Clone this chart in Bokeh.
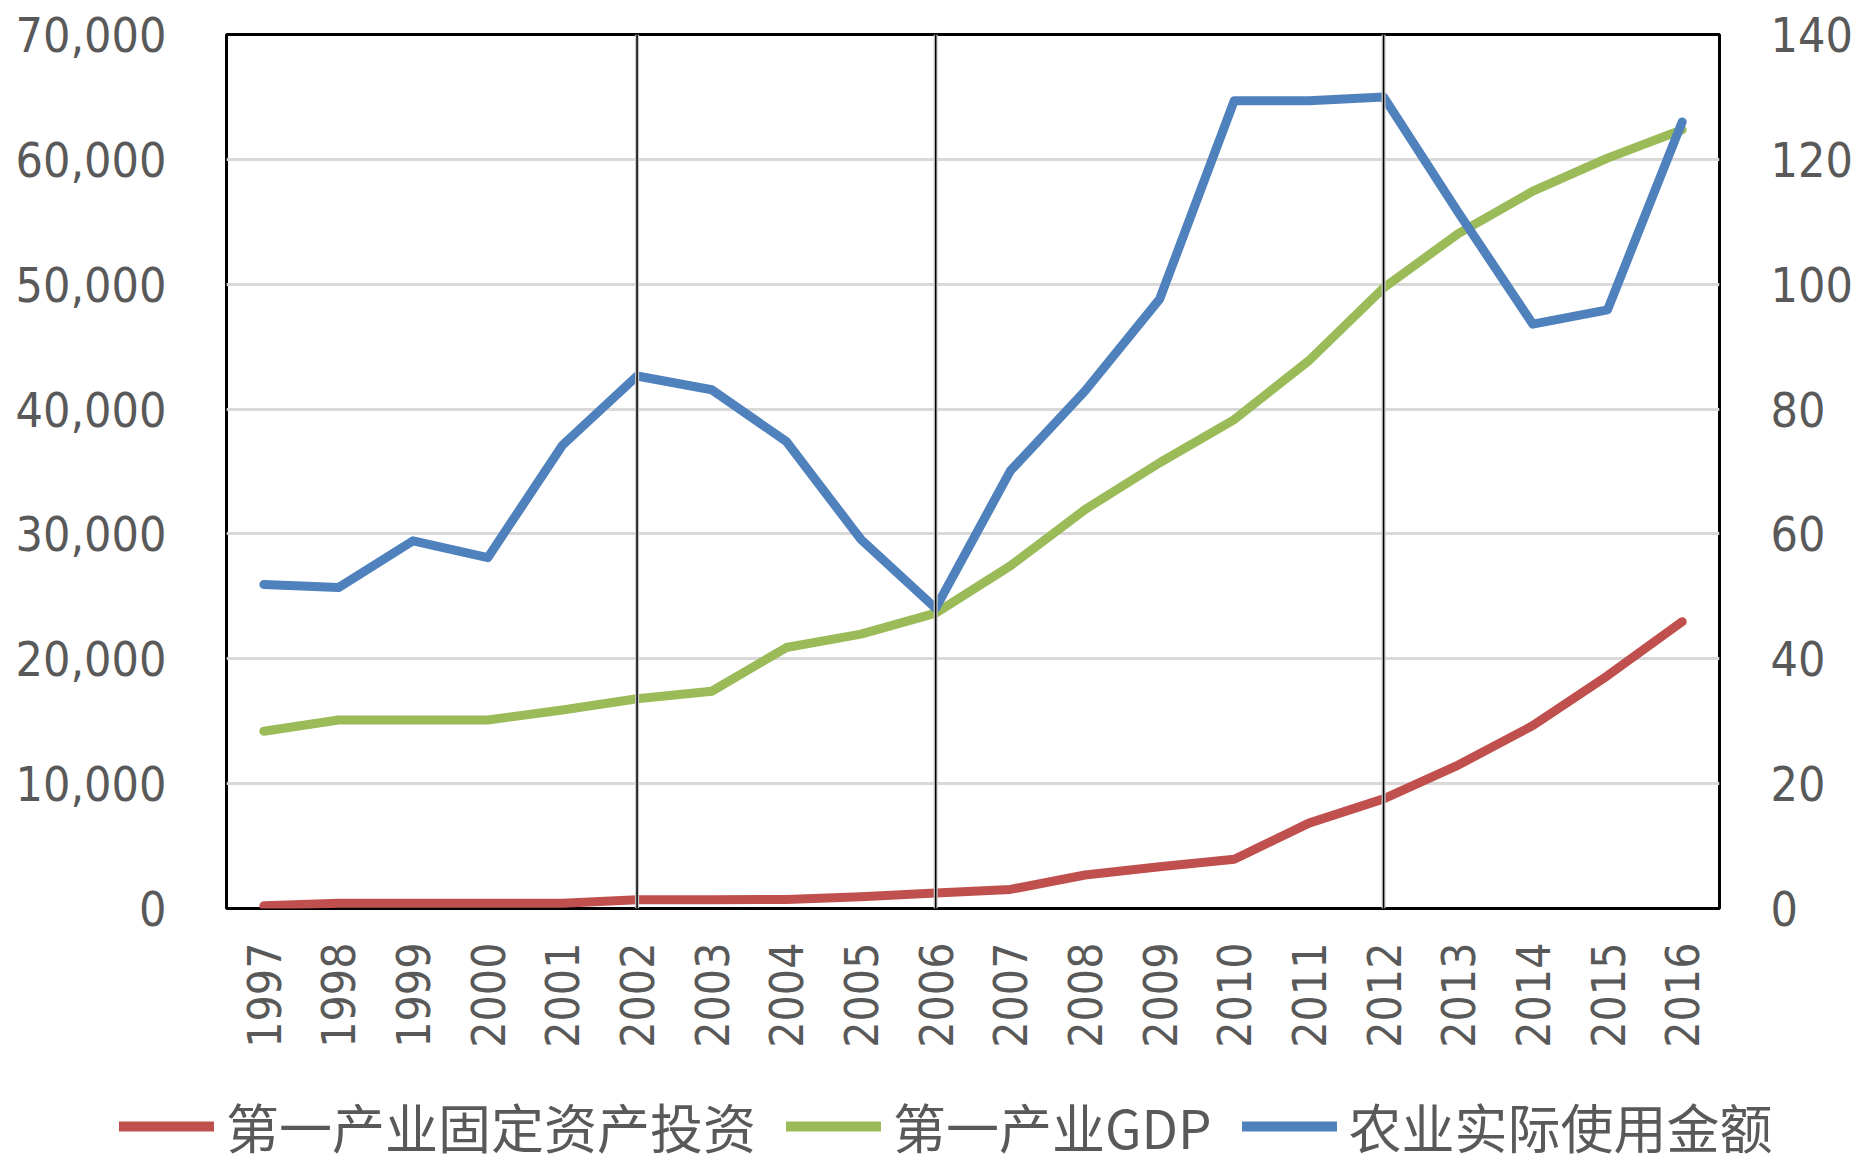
from bokeh.plotting import figure
from bokeh.layouts import column
from bokeh.models import (LinearAxis, Range1d, FixedTicker, NumeralTickFormatter,
                          Span, Legend, LegendItem)
from bokeh.embed import file_html
from bokeh.resources import INLINE
import math

years = list(range(1997, 2017))
fai = [220, 430, 430, 430, 430, 700, 700, 720, 940, 1235, 1530, 2680, 3350, 3940,
       6840, 8780, 11490, 14650, 18650, 22970]
gdp = [14200, 15100, 15100, 15100, 15900, 16800, 17400, 20900, 21980, 23660, 27440,
       31950, 35700, 39160, 43880, 49700, 54050, 57450, 60100, 62370]
agri = [51.9, 51.4, 58.9, 56.2, 74.2, 85.3, 83.1, 74.8, 59.1, 48.1, 70.1, 82.9, 97.6,
        129.4, 129.4, 130.0, 111.5, 93.6, 95.9, 126.0]
marked_years = [2002, 2006, 2012]
left_ticks = [0, 10000, 20000, 30000, 40000, 50000, 60000, 70000]
right_ticks = [0, 20, 40, 60, 80, 100, 120, 140]
names = ["第一产业固定资产投资", "第一产业GDP", "农业实际使用金额"]
colors = ["#C0504D", "#9BBB59", "#4F81BD"]
series = [fai, gdp, agri]

NUM_FONT = "DejaVu Sans Condensed"
TXT = "#595959"

p = figure(width=1865, height=1065, x_range=Range1d(1996.5, 2016.5),
           y_range=Range1d(0, 70000), output_backend="svg", toolbar_location=None,
           min_border_left=226, min_border_right=146, min_border_top=34,
           min_border_bottom=157)
p.extra_y_ranges = {"right": Range1d(0, 140)}

p.outline_line_color = "black"
p.outline_line_width = 3
p.background_fill_color = "white"
p.border_fill_color = "white"

p.xgrid.visible = False
p.ygrid.ticker = FixedTicker(ticks=left_ticks)
p.ygrid.grid_line_color = "#d9d9d9"
p.ygrid.grid_line_width = 3


def style_axis(ax, standoff, size):
    ax.axis_line_color = None
    ax.major_tick_line_color = None
    ax.minor_tick_line_color = None
    ax.major_tick_out = 0
    ax.major_tick_in = 0
    ax.minor_tick_out = 0
    ax.minor_tick_in = 0
    ax.major_label_standoff = standoff
    ax.major_label_text_font = NUM_FONT
    ax.major_label_text_font_size = size
    ax.major_label_text_color = TXT


ya = p.yaxis[0]
ya.ticker = FixedTicker(ticks=left_ticks)
ya.formatter = NumeralTickFormatter(format="0,0")
style_axis(ya, 60, "48px")

ra = LinearAxis(y_range_name="right", ticker=FixedTicker(ticks=right_ticks))
style_axis(ra, 51, "48px")
p.add_layout(ra, "right")

xa = p.xaxis[0]
xa.ticker = FixedTicker(ticks=years)
xa.major_label_orientation = math.pi / 2
style_axis(xa, 34, "46px")

for yr in marked_years:
    p.add_layout(Span(location=yr, dimension="height", line_color="#c8c8c8",
                      line_width=4))
    p.add_layout(Span(location=yr, dimension="height", line_color="black",
                      line_width=1.5))

p.line(years, fai, line_color=colors[0], line_width=9, line_cap="round",
       line_join="round")
p.line(years, gdp, line_color=colors[1], line_width=9, line_cap="round",
       line_join="round")
p.line(years, agri, line_color=colors[2], line_width=9, line_cap="round",
       line_join="round", y_range_name="right")

# legend strip below the chart (its own frame spans the full width)
lf = figure(width=1865, height=102, x_range=Range1d(0, 1), y_range=Range1d(0, 1),
            output_backend="svg", toolbar_location=None,
            min_border_left=0, min_border_right=0, min_border_top=0,
            min_border_bottom=0)
try:
    lf.frame_align = False
    p.frame_align = False
except Exception:
    pass
lf.axis.visible = False
lf.grid.visible = False
lf.outline_line_color = None
# legend swatches: same series, drawn outside this strip's ranges (only the key shows)
leg_r = [lf.line(years, s, line_color=c, line_width=10, line_cap="round")
         for s, c in zip(series, colors)]
legend = Legend(items=[LegendItem(label=n, renderers=[r]) for n, r in zip(names, leg_r)],
                orientation="horizontal", location=(119, 2))
legend.label_text_font = "Noto Sans CJK SC"
legend.label_text_font_size = "53px"
legend.label_text_color = TXT
legend.glyph_width = 95
legend.glyph_height = 78
legend.label_height = 78
legend.label_standoff = 12
legend.spacing = 30
legend.padding = 0
legend.margin = 0
legend.border_line_color = None
legend.background_fill_alpha = 0
lf.add_layout(legend, "center")

layout = column(p, lf, spacing=0)
open("out.html", "w").write(file_html(layout, INLINE))
